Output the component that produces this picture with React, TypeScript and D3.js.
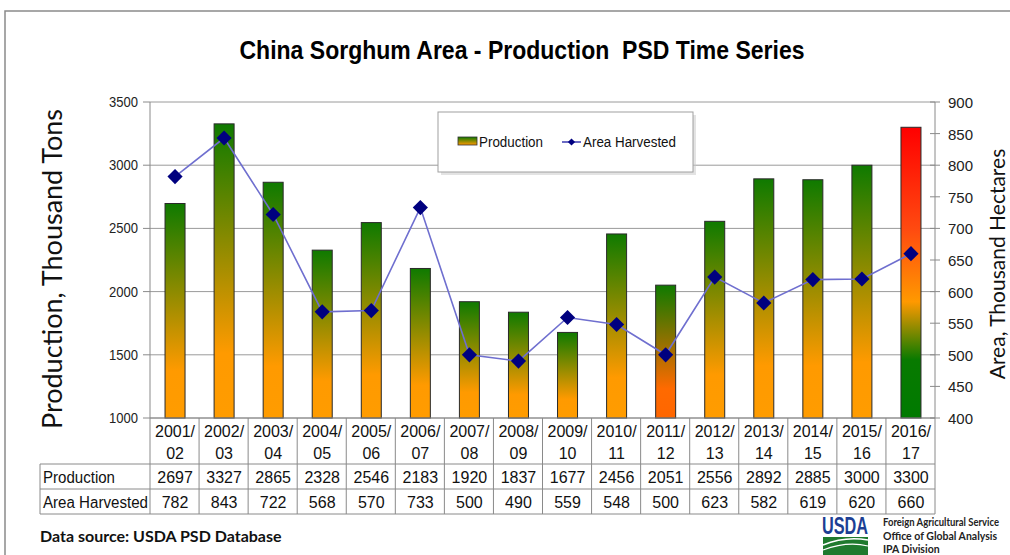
import React from "react";
import * as d3 from "d3";

const categories = ["2001/02","2002/03","2003/04","2004/05","2005/06","2006/07","2007/08","2008/09","2009/10","2010/11","2011/12","2012/13","2013/14","2014/15","2015/16","2016/17"];
const production = [2697,3327,2865,2328,2546,2183,1920,1837,1677,2456,2051,2556,2892,2885,3000,3300];
const areaHarvested = [782,843,722,568,570,733,500,490,559,548,500,623,582,619,620,660];
const leftTicks = [1000,1500,2000,2500,3000,3500];
const rightTicks = [400,450,500,550,600,650,700,750,800,850,900];
// gradient kind for each bar
const barStyle = ["g","g","g","g","g","g","g","g","g","g","r","g","g","g","g","f"];

const W = 1010, H = 555;
const M = { left: 150, right: 935, top: 102, bottom: 418 };
const ARIAL = "'Liberation Sans', Arial, sans-serif";
const CAL = "Lato, 'Open Sans', Calibri, sans-serif";

export default function App() {
  const x = d3.scaleBand<string>().domain(categories).range([M.left, M.right]).paddingInner(0).paddingOuter(0);
  const yL = d3.scaleLinear().domain([1000, 3500]).range([M.bottom, M.top]);
  const yR = d3.scaleLinear().domain([400, 900]).range([M.bottom, M.top]);
  const bw = x.bandwidth();
  const barW = 20;
  const cx = (c: string) => (x(c) as number) + bw / 2 + 0.5;

  const linePath = d3.line<number>()
    .x((_, i) => cx(categories[i]))
    .y((d) => yR(d))(areaHarvested) as string;

  const diamond = d3.symbol().type(d3.symbolSquare).size(115)() as string;
  const legDiamond = d3.symbol().type(d3.symbolSquare).size(26)() as string;

  const rowTop = M.bottom, row1 = 464, row2 = 489, row3 = 514, tableLeft = 40;

  return (
    <svg width={W} height={H} style={{ position: "absolute", left: 0, top: 0, background: "#fff" }}>
      <defs>
        <linearGradient id="gG" x1="0" y1="0" x2="0" y2="1">
          <stop offset="0" stopColor="#0f7a00" />
          <stop offset="0.78" stopColor="#FF9a00" />
          <stop offset="1" stopColor="#FF9c00" />
        </linearGradient>
        <linearGradient id="gR" x1="0" y1="0" x2="0" y2="1">
          <stop offset="0" stopColor="#0f7a00" />
          <stop offset="0.78" stopColor="#FF6a00" />
          <stop offset="1" stopColor="#FF6600" />
        </linearGradient>
        <linearGradient id="gF" x1="0" y1="0" x2="0" y2="1">
          <stop offset="0" stopColor="#FF0000" />
          <stop offset="0.35" stopColor="#FF4a10" />
          <stop offset="0.6" stopColor="#FF9900" />
          <stop offset="0.8" stopColor="#087a00" />
          <stop offset="1" stopColor="#007a00" />
        </linearGradient>
        <linearGradient id="gLeg" x1="0" y1="0" x2="0" y2="1">
          <stop offset="0" stopColor="#0f7a00" />
          <stop offset="1" stopColor="#FF9900" />
        </linearGradient>
      </defs>

      {/* outer frame */}
      <rect x={5} y={11} width={1020} height={560} fill="none" stroke="#8a8a8a" strokeWidth={1.5} />

      {/* title */}
      <text x={522} y={59} textAnchor="middle" fontFamily={ARIAL} fontWeight="bold" fontSize={25}
        fill="#000" textLength={565} lengthAdjust="spacingAndGlyphs" style={{ whiteSpace: "pre" }}>
        {"China Sorghum Area - Production  PSD Time Series"}
      </text>

      {/* gridlines */}
      {leftTicks.map((t) => (
        <line key={"g" + t} x1={M.left} x2={M.right} y1={yL(t)} y2={yL(t)} stroke="#9a9a9a" strokeWidth={1} />
      ))}

      {/* left axis */}
      <line x1={M.left} x2={M.left} y1={M.top} y2={M.bottom} stroke="#8a8a8a" />
      {leftTicks.map((t) => (
        <g key={"l" + t}>
          <line x1={M.left - 7} x2={M.left} y1={yL(t)} y2={yL(t)} stroke="#8a8a8a" />
          <text x={138} y={yL(t) + 5} textAnchor="end" fontFamily={ARIAL} fontSize={14} fill="#222"
            textLength={29} lengthAdjust="spacingAndGlyphs">{t}</text>
        </g>
      ))}

      {/* right axis */}
      <line x1={M.right} x2={M.right} y1={M.top} y2={M.bottom} stroke="#8a8a8a" />
      {rightTicks.map((t) => (
        <g key={"r" + t}>
          <line x1={M.right - 5} x2={M.right + 5} y1={yR(t)} y2={yR(t)} stroke="#8a8a8a" />
          <text x={948} y={yR(t) + 6} textAnchor="start" fontFamily={ARIAL} fontSize={15} fill="#222">{t}</text>
        </g>
      ))}

      {/* bars */}
      {categories.map((c, i) => (
        <rect key={"b" + c} x={cx(c) - barW / 2} y={yL(production[i])} width={barW}
          height={yL(1000) - yL(production[i])}
          fill={barStyle[i] === "f" ? "url(#gF)" : barStyle[i] === "r" ? "url(#gR)" : "url(#gG)"}
          stroke="#2a2a2a" strokeWidth={1} />
      ))}

      {/* area line */}
      <path d={linePath} fill="none" stroke="#6f6fcf" strokeWidth={1.6} />
      {areaHarvested.map((v, i) => (
        <path key={"d" + i} d={diamond} transform={`translate(${cx(categories[i])},${yR(v)}) rotate(45)`} fill="#00007f" />
      ))}

      {/* legend */}
      <rect x={441} y={115} width={255} height={60} fill="#c8c8c8" opacity={0.5} />
      <rect x={438} y={112} width={255} height={60} fill="#fff" stroke="#a0a0a0" strokeWidth={1} />
      <rect x={458} y={137} width={19} height={8} fill="url(#gLeg)" stroke="#333" strokeWidth={0.8} />
      <text x={479} y={147} fontFamily={ARIAL} fontSize={14} fill="#111" textLength={64} lengthAdjust="spacingAndGlyphs">Production</text>
      <line x1={562} x2={581} y1={142} y2={142} stroke="#3a3ab0" strokeWidth={1.5} />
      <path d={legDiamond} transform="translate(571.5,142) rotate(45)" fill="#00007f" />
      <text x={583} y={147} fontFamily={ARIAL} fontSize={14} fill="#111" textLength={93} lengthAdjust="spacingAndGlyphs">Area Harvested</text>

      {/* axis titles */}
      <text transform={`translate(62,269) rotate(-90)`} textAnchor="middle"
        fontFamily={CAL} fontSize={27} fill="#111">Production, Thousand Tons</text>
      <text transform={`translate(1005,264) rotate(-90)`} textAnchor="middle"
        fontFamily={CAL} fontSize={21} fill="#111">Area, Thousand Hectares</text>

      {/* table */}
      <g stroke="#8a8a8a" strokeWidth={1}>
        <line x1={M.left} x2={M.right} y1={rowTop} y2={rowTop} />
        <line x1={tableLeft} x2={M.right} y1={row1} y2={row1} />
        <line x1={tableLeft} x2={M.right} y1={row2} y2={row2} />
        <line x1={tableLeft} x2={M.right} y1={row3} y2={row3} />
        <line x1={tableLeft} x2={tableLeft} y1={row1} y2={row3} />
        {categories.map((c) => (
          <line key={"v" + c} x1={x(c) as number} x2={x(c) as number} y1={rowTop} y2={row3} />
        ))}
        <line x1={M.right} x2={M.right} y1={rowTop} y2={row3} />
      </g>
      {categories.map((c, i) => {
        const [a, b] = c.split("/");
        return (
          <g key={"t" + c} fontFamily={ARIAL} fontSize={16} fill="#111" textAnchor="middle">
            <text x={cx(c)} y={437}>{a + "/"}</text>
            <text x={cx(c)} y={459}>{b}</text>
            <text x={cx(c)} y={483}>{production[i]}</text>
            <text x={cx(c)} y={508}>{areaHarvested[i]}</text>
          </g>
        );
      })}
      <text x={43} y={483} fontFamily={ARIAL} fontSize={16} fill="#111" textLength={72} lengthAdjust="spacingAndGlyphs">Production</text>
      <text x={43} y={508} fontFamily={ARIAL} fontSize={16} fill="#111" textLength={105} lengthAdjust="spacingAndGlyphs">Area Harvested</text>

      {/* footer */}
      <text x={40} y={542} fontFamily={CAL} fontWeight="bold" fontSize={16} fill="#111">Data source: USDA PSD Database</text>

      {/* USDA logo */}
      <text x={822} y={534} fontFamily={ARIAL} fontWeight="bold" fontSize={24} fill="#1c3f94" textLength={46} lengthAdjust="spacingAndGlyphs">USDA</text>
      <rect x={823} y={537} width={45} height={18} fill="#1f7a2e" />
      <path d="M823,545 Q845,536 868,540" stroke="#fff" strokeWidth={1.5} fill="none" />
      <path d="M823,550 Q847,541 868,546" stroke="#fff" strokeWidth={1.2} fill="none" />
      <g fontFamily={CAL} fontWeight="bold" fontSize={10.5} fill="#222">
        <text x={883} y={526} textLength={116} lengthAdjust="spacingAndGlyphs">Foreign Agricultural Service</text>
        <text x={883} y={540}>Office of Global Analysis</text>
        <text x={883} y={553}>IPA Division</text>
      </g>
    </svg>
  );
}
